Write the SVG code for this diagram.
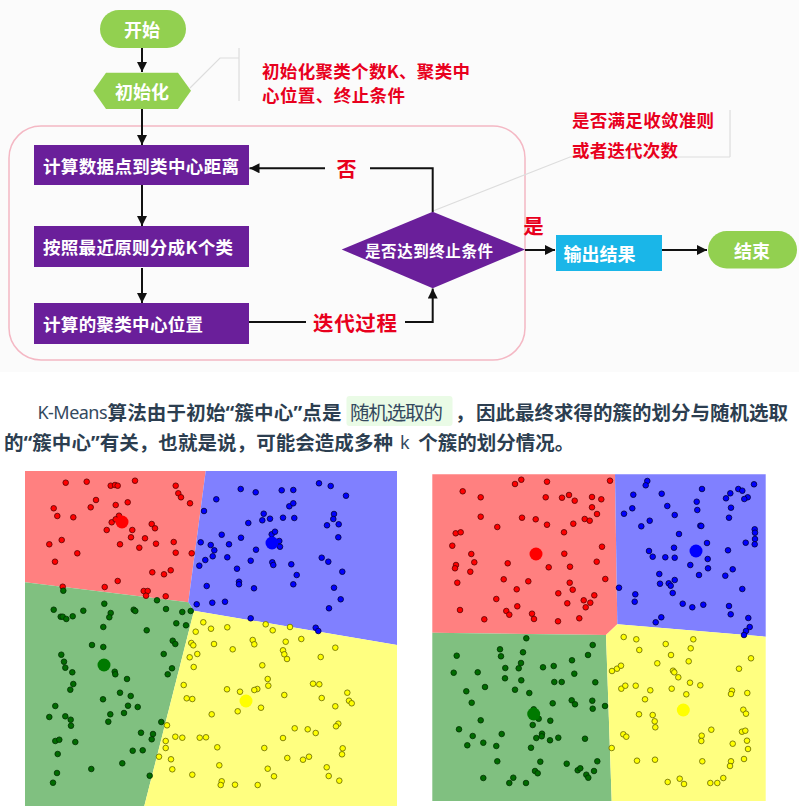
<svg xmlns="http://www.w3.org/2000/svg" width="799" height="810" viewBox="0 0 799 810">
<defs>
<style>
.cjk{font-family:"Noto Sans CJK SC","Noto Sans",sans-serif}
.q{font-family:"Noto Sans","Liberation Sans",sans-serif}
.wt{fill:#fff;font-weight:700;dominant-baseline:central}
.red{fill:#e8001d;font-weight:700;dominant-baseline:central}
.par{fill:#2c3e50;font-weight:700;font-size:19.5px;dominant-baseline:central}
.reg{fill:#34495e;font-weight:400}
.lat{font-family:"Noto Sans","Noto Sans CJK SC",sans-serif;font-weight:400;fill:#34495e}
.box{fill:#6a1f9a}
.pill{fill:#92d050}
.conn{fill:none;stroke:#111;stroke-width:2}
.lead{fill:none;stroke:#dddddd;stroke-width:1.2}
.pr circle{fill:#ff0000;stroke:#5a0000;stroke-width:0.8}
.pb circle{fill:#0000ff;stroke:#00003a;stroke-width:0.8}
.pg circle{fill:#006b00;stroke:#003000;stroke-width:0.8}
.py circle{fill:#ffff00;stroke:#666600;stroke-width:0.8}
</style>
<marker id="ah" markerUnits="userSpaceOnUse" markerWidth="11" markerHeight="10" refX="10" refY="5" orient="auto">
<path d="M0,0 L10,5 L0,10 z" fill="#111"/>
</marker>
</defs>
<rect x="0" y="0" width="799" height="810" fill="#ffffff"/>
<rect x="0" y="0" width="799" height="372" fill="#fbfbfb"/>

<!-- container -->
<rect id="loop-frame" x="9" y="126" width="516" height="234" rx="32" fill="none" stroke="#f4b8c4" stroke-width="1.5"/>

<!-- annotation leaders -->
<g id="annotations">
<path class="lead" d="M190,88 L220,58 L239,58 M239,48 L239,101"/>
<path class="lead" d="M433,211 L570,157 L730,157 M730,110 L730,157"/>
<text class="cjk red" font-size="17.5" x="262" y="70" textLength="208">初始化聚类个数K、聚类中</text>
<text class="cjk red" font-size="17.5" x="262" y="94.5" textLength="143">心位置、终止条件</text>
<text class="cjk red" font-size="17.5" x="572" y="119.5" textLength="142">是否满足收敛准则</text>
<text class="cjk red" font-size="17.5" x="572" y="149.5" textLength="106">或者迭代次数</text>
</g>

<!-- connectors -->
<g id="connectors">
<path class="conn" d="M142,48 L142,72" marker-end="url(#ah)"/>
<path class="conn" d="M142,109 L142,145" marker-end="url(#ah)"/>
<path class="conn" d="M142,185 L142,226" marker-end="url(#ah)"/>
<path class="conn" d="M142,268 L142,303" marker-end="url(#ah)"/>
<path class="conn" d="M249,322 L306,322"/>
<path class="conn" d="M405,322 L432.7,322 L432.7,288.5" marker-end="url(#ah)"/>
<path class="conn" d="M432.7,212 L432.7,168.3 L370,168.3"/>
<path class="conn" d="M325,168.3 L249.5,168.3" marker-end="url(#ah)"/>
<path class="conn" d="M525,250 L555,250" marker-end="url(#ah)"/>
<path class="conn" d="M662,250 L707,250" marker-end="url(#ah)"/>
<text class="cjk red" font-size="20" x="346.5" y="168" text-anchor="middle">否</text>
<text class="cjk red" font-size="20.5" x="313" y="322" textLength="84">迭代过程</text>
<text class="cjk red" font-size="20.5" x="533.5" y="225" text-anchor="middle">是</text>
</g>

<!-- nodes -->
<g id="start">
<rect class="pill" x="100" y="10" width="86" height="38" rx="19"/>
<text class="cjk wt" font-size="18" x="142" y="29" text-anchor="middle">开始</text>
</g>
<g id="init">
<polygon class="pill" points="93.3,90.8 106,72.7 178,72.7 191,90.8 178,109 106,109"/>
<text class="cjk wt" font-size="18" x="142" y="91" text-anchor="middle">初始化</text>
</g>
<g id="calc-distance">
<rect class="box" x="34" y="145" width="215" height="40"/>
<text class="cjk wt" font-size="17.5" x="43" y="165.5" textLength="196">计算数据点到类中心距离</text>
</g>
<g id="assign">
<rect class="box" x="34" y="226" width="215" height="41"/>
<text class="cjk wt" font-size="17.5" x="43" y="246.5" textLength="190">按照最近原则分成K个类</text>
</g>
<g id="update">
<rect class="box" x="34" y="303" width="215" height="41"/>
<text class="cjk wt" font-size="17.5" x="43" y="323.5" textLength="160">计算的聚类中心位置</text>
</g>
<g id="condition">
<polygon class="box" points="341.7,249.5 432.7,211.7 525,249.5 432.7,288.3"/>
<text class="cjk wt" font-size="15.5" x="365" y="250" textLength="128">是否达到终止条件</text>
</g>
<g id="output">
<rect x="556" y="235" width="106" height="36" fill="#1ab6e8"/>
<text class="cjk wt" font-size="18" x="563.5" y="252.5" textLength="72">输出结果</text>
</g>
<g id="end">
<rect class="pill" x="708" y="231" width="89" height="37.5" rx="18.7"/>
<text class="cjk wt" font-size="18" x="752" y="249.5" text-anchor="middle">结束</text>
</g>

<!-- paragraph -->
<g id="paragraph">
<rect x="346.5" y="396" width="106" height="30" rx="3" fill="#eafbe6"/>
<text class="lat" font-size="18" x="37.5" y="411.7" dominant-baseline="central" textLength="70">K-Means</text>
<text class="cjk par" x="107.5" y="411.7" textLength="234">算法由于初始<tspan class="q">“</tspan>簇中心<tspan class="q">”</tspan>点是</text>
<text class="cjk par reg" x="350" y="411.7" textLength="93">随机选取的</text>
<text class="cjk par" x="455" y="411.7">，</text>
<text class="cjk par" x="476" y="411.7" textLength="312">因此最终求得的簇的划分与随机选取</text>
<text class="cjk par" x="4" y="441.7" textLength="389">的<tspan class="q">“</tspan>簇中心<tspan class="q">”</tspan>有关，也就是说，可能会造成多种</text>
<text class="lat" font-size="18" x="400" y="441.7" dominant-baseline="central">k</text>
<text class="cjk par" x="418.3" y="441.7" textLength="156">个簇的划分情况。</text>
</g>

<!-- left scatter plot -->
<g id="plot-left">
<polygon fill="#ff8080" points="25,471 205.7,471 188.3,602.3 25,582.3"/>
<polygon fill="#8080ff" points="205.7,471 397,471 397,645 194,610.7 188.3,602.3"/>
<polygon fill="#80c080" points="25,582.3 188.3,602.3 194,610.7 144.3,806 25,806"/>
<polygon fill="#ffff80" points="194,610.7 397,645 397,806 144.3,806"/>
<g class="pr">
<circle cx="65.7" cy="482.7" r="2.8"/><circle cx="86.7" cy="481.7" r="2.8"/><circle cx="110.7" cy="485.7" r="2.8"/><circle cx="115" cy="485" r="2.8"/><circle cx="117.7" cy="485.7" r="2.8"/><circle cx="135" cy="480.7" r="2.8"/><circle cx="175.7" cy="485.7" r="2.8"/><circle cx="178.3" cy="493.3" r="2.8"/><circle cx="181" cy="497.3" r="2.8"/><circle cx="190" cy="503.3" r="2.8"/><circle cx="96" cy="500" r="2.8"/><circle cx="90.7" cy="507.3" r="2.8"/><circle cx="115.7" cy="505" r="2.8"/><circle cx="127.7" cy="502.3" r="2.8"/><circle cx="53.7" cy="508.3" r="2.8"/><circle cx="57.3" cy="516" r="2.8"/><circle cx="73.3" cy="517.3" r="2.8"/><circle cx="119" cy="515.7" r="2.8"/><circle cx="111.7" cy="522.3" r="2.8"/><circle cx="115.7" cy="519.3" r="2.8"/><circle cx="132.3" cy="530" r="2.8"/><circle cx="151.7" cy="524" r="2.8"/><circle cx="155" cy="528.3" r="2.8"/><circle cx="106.7" cy="530" r="2.8"/><circle cx="61.7" cy="540" r="2.8"/><circle cx="49.3" cy="544.3" r="2.8"/><circle cx="77.3" cy="553.3" r="2.8"/><circle cx="55" cy="561.7" r="2.8"/><circle cx="120" cy="544.3" r="2.8"/><circle cx="131" cy="537.3" r="2.8"/><circle cx="139.3" cy="547.7" r="2.8"/><circle cx="145" cy="538.3" r="2.8"/><circle cx="156" cy="543.7" r="2.8"/><circle cx="173.7" cy="542" r="2.8"/><circle cx="175.7" cy="552.7" r="2.8"/><circle cx="191.7" cy="553.3" r="2.8"/><circle cx="152.3" cy="572.3" r="2.8"/><circle cx="164" cy="574.3" r="2.8"/><circle cx="170.7" cy="570.3" r="2.8"/><circle cx="117.7" cy="581" r="2.8"/><circle cx="104.7" cy="587" r="2.8"/><circle cx="62.7" cy="586.7" r="2.8"/><circle cx="143.7" cy="591" r="2.8"/><circle cx="147.7" cy="591" r="2.8"/><circle cx="146" cy="595.7" r="2.8"/><circle cx="165.7" cy="596.3" r="2.8"/>
</g>
<g class="pb">
<circle cx="240.7" cy="489" r="2.8"/><circle cx="255.7" cy="492.3" r="2.8"/><circle cx="281.7" cy="490.3" r="2.8"/><circle cx="293.3" cy="490" r="2.8"/><circle cx="319" cy="483.3" r="2.8"/><circle cx="330.7" cy="486" r="2.8"/><circle cx="346" cy="495.7" r="2.8"/><circle cx="216.3" cy="499.3" r="2.8"/><circle cx="204" cy="511" r="2.8"/><circle cx="263.7" cy="513.7" r="2.8"/><circle cx="270" cy="518.7" r="2.8"/><circle cx="262.3" cy="520.3" r="2.8"/><circle cx="283" cy="517.7" r="2.8"/><circle cx="294.3" cy="518" r="2.8"/><circle cx="289.3" cy="506.3" r="2.8"/><circle cx="293.3" cy="503.3" r="2.8"/><circle cx="334" cy="514" r="2.8"/><circle cx="333.3" cy="519" r="2.8"/><circle cx="338.7" cy="524.3" r="2.8"/><circle cx="327" cy="525.3" r="2.8"/><circle cx="248.3" cy="523" r="2.8"/><circle cx="221.7" cy="534.7" r="2.8"/><circle cx="241" cy="537.7" r="2.8"/><circle cx="200.7" cy="542.3" r="2.8"/><circle cx="210.7" cy="545" r="2.8"/><circle cx="214.3" cy="550.3" r="2.8"/><circle cx="212.7" cy="556.3" r="2.8"/><circle cx="229" cy="544.3" r="2.8"/><circle cx="271.7" cy="534.3" r="2.8"/><circle cx="275" cy="531.7" r="2.8"/><circle cx="279.3" cy="541" r="2.8"/><circle cx="280" cy="546.7" r="2.8"/><circle cx="256" cy="549.7" r="2.8"/><circle cx="227.3" cy="557.3" r="2.8"/><circle cx="250.7" cy="560.7" r="2.8"/><circle cx="272.3" cy="562.3" r="2.8"/><circle cx="273.3" cy="565" r="2.8"/><circle cx="291.3" cy="564.3" r="2.8"/><circle cx="296.7" cy="575" r="2.8"/><circle cx="338.3" cy="537.3" r="2.8"/><circle cx="321.7" cy="557.7" r="2.8"/><circle cx="328.3" cy="561.7" r="2.8"/><circle cx="342.3" cy="571.7" r="2.8"/><circle cx="205.3" cy="560" r="2.8"/><circle cx="199.3" cy="565.7" r="2.8"/><circle cx="237" cy="568.7" r="2.8"/><circle cx="239" cy="581.7" r="2.8"/><circle cx="239" cy="584.3" r="2.8"/><circle cx="254" cy="588.3" r="2.8"/><circle cx="293.3" cy="584.3" r="2.8"/><circle cx="206.7" cy="586" r="2.8"/><circle cx="334" cy="587.7" r="2.8"/><circle cx="340.7" cy="599.3" r="2.8"/><circle cx="329" cy="608.3" r="2.8"/><circle cx="196.7" cy="604.3" r="2.8"/><circle cx="212.3" cy="602.7" r="2.8"/><circle cx="225" cy="601.7" r="2.8"/><circle cx="250.7" cy="618.3" r="2.8"/><circle cx="315.7" cy="627.7" r="2.8"/><circle cx="318.3" cy="631" r="2.8"/>
</g>
<g class="pg">
<circle cx="63.3" cy="590.7" r="2.8"/><circle cx="53.7" cy="609.7" r="2.8"/><circle cx="60.7" cy="616.7" r="2.8"/><circle cx="62.7" cy="616.7" r="2.8"/><circle cx="66.3" cy="619" r="2.8"/><circle cx="72.7" cy="616.3" r="2.8"/><circle cx="83.3" cy="610.7" r="2.8"/><circle cx="104.3" cy="603.7" r="2.8"/><circle cx="110.7" cy="613" r="2.8"/><circle cx="109.3" cy="617.3" r="2.8"/><circle cx="103.3" cy="627" r="2.8"/><circle cx="133.7" cy="609.7" r="2.8"/><circle cx="135.3" cy="611" r="2.8"/><circle cx="146.7" cy="630.3" r="2.8"/><circle cx="157" cy="600.3" r="2.8"/><circle cx="166" cy="609" r="2.8"/><circle cx="182.3" cy="612" r="2.8"/><circle cx="190.7" cy="611" r="2.8"/><circle cx="176.3" cy="623.3" r="2.8"/><circle cx="186" cy="625.3" r="2.8"/><circle cx="172.7" cy="640.7" r="2.8"/><circle cx="175.3" cy="644" r="2.8"/><circle cx="163.7" cy="654" r="2.8"/><circle cx="167.7" cy="674.3" r="2.8"/><circle cx="172" cy="668.3" r="2.8"/><circle cx="92" cy="645" r="2.8"/><circle cx="103.3" cy="647" r="2.8"/><circle cx="61.3" cy="654.7" r="2.8"/><circle cx="64" cy="661.7" r="2.8"/><circle cx="65.3" cy="667.7" r="2.8"/><circle cx="72.3" cy="672.3" r="2.8"/><circle cx="114.7" cy="671.7" r="2.8"/><circle cx="115.3" cy="674.3" r="2.8"/><circle cx="127" cy="679" r="2.8"/><circle cx="73.3" cy="684" r="2.8"/><circle cx="70.3" cy="689.7" r="2.8"/><circle cx="120" cy="692.7" r="2.8"/><circle cx="130.7" cy="696" r="2.8"/><circle cx="103" cy="699.3" r="2.8"/><circle cx="128" cy="705.7" r="2.8"/><circle cx="137.7" cy="707" r="2.8"/><circle cx="55.3" cy="706" r="2.8"/><circle cx="49.3" cy="717" r="2.8"/><circle cx="65.3" cy="716.3" r="2.8"/><circle cx="70.7" cy="719.7" r="2.8"/><circle cx="71" cy="725.7" r="2.8"/><circle cx="110.3" cy="714.3" r="2.8"/><circle cx="124" cy="713" r="2.8"/><circle cx="108.3" cy="721.7" r="2.8"/><circle cx="161.3" cy="722" r="2.8"/><circle cx="141" cy="732.7" r="2.8"/><circle cx="153" cy="734" r="2.8"/><circle cx="151.7" cy="739.3" r="2.8"/><circle cx="55.3" cy="741" r="2.8"/><circle cx="59.3" cy="739.7" r="2.8"/><circle cx="75.3" cy="742" r="2.8"/><circle cx="57.7" cy="754" r="2.8"/><circle cx="132.7" cy="750.7" r="2.8"/><circle cx="142.7" cy="750.3" r="2.8"/><circle cx="122.3" cy="763.3" r="2.8"/><circle cx="91.3" cy="769" r="2.8"/><circle cx="57" cy="773" r="2.8"/><circle cx="53" cy="782.7" r="2.8"/><circle cx="149.7" cy="775.7" r="2.8"/>
</g>
<g class="py">
<circle cx="203.3" cy="622.3" r="2.8"/><circle cx="211" cy="628.7" r="2.8"/><circle cx="195.7" cy="631.7" r="2.8"/><circle cx="227.3" cy="627.3" r="2.8"/><circle cx="265.7" cy="624.3" r="2.8"/><circle cx="272.7" cy="630.3" r="2.8"/><circle cx="290" cy="627" r="2.8"/><circle cx="191.3" cy="643" r="2.8"/><circle cx="193.3" cy="645.3" r="2.8"/><circle cx="214" cy="644" r="2.8"/><circle cx="197.3" cy="654" r="2.8"/><circle cx="189.7" cy="657.3" r="2.8"/><circle cx="193.7" cy="667" r="2.8"/><circle cx="232.7" cy="649.3" r="2.8"/><circle cx="252.7" cy="640" r="2.8"/><circle cx="254.3" cy="644.3" r="2.8"/><circle cx="285.7" cy="641.7" r="2.8"/><circle cx="301.3" cy="639" r="2.8"/><circle cx="283" cy="650.3" r="2.8"/><circle cx="284.3" cy="654.3" r="2.8"/><circle cx="287" cy="659" r="2.8"/><circle cx="262.3" cy="665.3" r="2.8"/><circle cx="335.3" cy="647.7" r="2.8"/><circle cx="320.7" cy="657" r="2.8"/><circle cx="267.7" cy="679" r="2.8"/><circle cx="268.3" cy="685.7" r="2.8"/><circle cx="257.3" cy="689" r="2.8"/><circle cx="254.3" cy="690" r="2.8"/><circle cx="227" cy="689.3" r="2.8"/><circle cx="240" cy="691.7" r="2.8"/><circle cx="284.3" cy="695" r="2.8"/><circle cx="183.7" cy="685" r="2.8"/><circle cx="186.7" cy="698.3" r="2.8"/><circle cx="192.3" cy="699" r="2.8"/><circle cx="211.7" cy="714.3" r="2.8"/><circle cx="237.7" cy="711.3" r="2.8"/><circle cx="261" cy="707.7" r="2.8"/><circle cx="313" cy="683.7" r="2.8"/><circle cx="319.3" cy="684.3" r="2.8"/><circle cx="321.7" cy="698" r="2.8"/><circle cx="347.3" cy="692.7" r="2.8"/><circle cx="349" cy="700.7" r="2.8"/><circle cx="351.7" cy="703.3" r="2.8"/><circle cx="335.3" cy="706.3" r="2.8"/><circle cx="167" cy="725.3" r="2.8"/><circle cx="165.7" cy="741" r="2.8"/><circle cx="175.3" cy="736.7" r="2.8"/><circle cx="182.3" cy="737.7" r="2.8"/><circle cx="165.7" cy="748" r="2.8"/><circle cx="159" cy="756.7" r="2.8"/><circle cx="171" cy="759.3" r="2.8"/><circle cx="172.3" cy="769.3" r="2.8"/><circle cx="199.7" cy="737.7" r="2.8"/><circle cx="206" cy="737.3" r="2.8"/><circle cx="217.3" cy="747.3" r="2.8"/><circle cx="264.3" cy="748" r="2.8"/><circle cx="283" cy="738" r="2.8"/><circle cx="294.7" cy="728.3" r="2.8"/><circle cx="307.7" cy="729.3" r="2.8"/><circle cx="315.7" cy="733" r="2.8"/><circle cx="338.3" cy="723.7" r="2.8"/><circle cx="336" cy="726.3" r="2.8"/><circle cx="342.7" cy="748.3" r="2.8"/><circle cx="342" cy="754.3" r="2.8"/><circle cx="287.3" cy="758" r="2.8"/><circle cx="303" cy="759.7" r="2.8"/><circle cx="309" cy="756.7" r="2.8"/><circle cx="326.7" cy="767.3" r="2.8"/><circle cx="328.7" cy="776" r="2.8"/><circle cx="339.3" cy="780.7" r="2.8"/><circle cx="219.3" cy="765.3" r="2.8"/><circle cx="192.3" cy="774.7" r="2.8"/><circle cx="221.7" cy="781.3" r="2.8"/><circle cx="220.7" cy="785" r="2.8"/><circle cx="235" cy="784.7" r="2.8"/><circle cx="257.7" cy="785" r="2.8"/><circle cx="267.7" cy="768.7" r="2.8"/><circle cx="274" cy="776.3" r="2.8"/>
</g>
<circle cx="122" cy="522" r="6.5" fill="#ff0000"/>
<circle cx="272" cy="543" r="6.5" fill="#0000ff"/>
<circle cx="104" cy="665" r="6.5" fill="#007a00"/>
<circle cx="246" cy="701" r="6.5" fill="#ffff00"/>
</g>

<!-- right scatter plot -->
<g id="plot-right">
<polygon fill="#ff8080" points="432.3,474.3 615,474.3 617.3,624.3 606,635 432.3,632.7"/>
<polygon fill="#8080ff" points="615,474.3 765.7,474.3 765.7,636.7 617.3,624.3"/>
<polygon fill="#80c080" points="432.3,632.7 606,635 611.7,801 432.3,801"/>
<polygon fill="#ffff80" points="606,635 617.3,624.3 765.7,636.7 765.7,801 611.7,801"/>
<g class="pr">
<circle cx="462.7" cy="491.3" r="2.8"/><circle cx="480.7" cy="497.3" r="2.8"/><circle cx="515" cy="484" r="2.8"/><circle cx="521.3" cy="479.7" r="2.8"/><circle cx="547" cy="481.7" r="2.8"/><circle cx="610" cy="480.7" r="2.8"/><circle cx="545.7" cy="497.3" r="2.8"/><circle cx="562" cy="497.7" r="2.8"/><circle cx="569" cy="495" r="2.8"/><circle cx="574.7" cy="500.7" r="2.8"/><circle cx="592" cy="497" r="2.8"/><circle cx="601.3" cy="499.3" r="2.8"/><circle cx="592" cy="507.3" r="2.8"/><circle cx="597" cy="514" r="2.8"/><circle cx="584.7" cy="519" r="2.8"/><circle cx="589.7" cy="520.7" r="2.8"/><circle cx="480.7" cy="516.7" r="2.8"/><circle cx="522" cy="517.7" r="2.8"/><circle cx="535.7" cy="519.3" r="2.8"/><circle cx="547" cy="524.7" r="2.8"/><circle cx="573.3" cy="523.7" r="2.8"/><circle cx="564" cy="532.3" r="2.8"/><circle cx="497.3" cy="527" r="2.8"/><circle cx="455.7" cy="533.3" r="2.8"/><circle cx="460.7" cy="532.3" r="2.8"/><circle cx="452.3" cy="545.7" r="2.8"/><circle cx="471.3" cy="554" r="2.8"/><circle cx="474.3" cy="562.3" r="2.8"/><circle cx="456" cy="565" r="2.8"/><circle cx="455" cy="568.3" r="2.8"/><circle cx="470.3" cy="571.7" r="2.8"/><circle cx="457.3" cy="582.7" r="2.8"/><circle cx="507.7" cy="563.3" r="2.8"/><circle cx="564.3" cy="553.7" r="2.8"/><circle cx="548.7" cy="567.3" r="2.8"/><circle cx="570" cy="566.7" r="2.8"/><circle cx="596.7" cy="561.7" r="2.8"/><circle cx="602" cy="546.7" r="2.8"/><circle cx="605.3" cy="579" r="2.8"/><circle cx="503.7" cy="579.3" r="2.8"/><circle cx="516.7" cy="589.3" r="2.8"/><circle cx="528.3" cy="581.3" r="2.8"/><circle cx="569.7" cy="582.7" r="2.8"/><circle cx="572.7" cy="589.7" r="2.8"/><circle cx="558.3" cy="593.3" r="2.8"/><circle cx="594.3" cy="595.3" r="2.8"/><circle cx="583.7" cy="600.3" r="2.8"/><circle cx="590.3" cy="602.7" r="2.8"/><circle cx="585.7" cy="607.3" r="2.8"/><circle cx="567.3" cy="603.3" r="2.8"/><circle cx="496.3" cy="599" r="2.8"/><circle cx="517.3" cy="606.3" r="2.8"/><circle cx="506.3" cy="611" r="2.8"/><circle cx="509.3" cy="614.7" r="2.8"/><circle cx="532" cy="613.7" r="2.8"/><circle cx="534" cy="619" r="2.8"/><circle cx="484.3" cy="619.3" r="2.8"/><circle cx="460" cy="610" r="2.8"/><circle cx="558" cy="621.3" r="2.8"/><circle cx="579.3" cy="618.3" r="2.8"/>
</g>
<g class="pb">
<circle cx="647.3" cy="481" r="2.8"/><circle cx="645.7" cy="485.3" r="2.8"/><circle cx="633.3" cy="494.7" r="2.8"/><circle cx="661.7" cy="493.7" r="2.8"/><circle cx="702" cy="489" r="2.8"/><circle cx="730.3" cy="493.3" r="2.8"/><circle cx="726" cy="498.3" r="2.8"/><circle cx="738.3" cy="489" r="2.8"/><circle cx="742.3" cy="490.7" r="2.8"/><circle cx="754" cy="484.3" r="2.8"/><circle cx="747.7" cy="497.3" r="2.8"/><circle cx="744.3" cy="499" r="2.8"/><circle cx="731" cy="507.7" r="2.8"/><circle cx="729" cy="517.7" r="2.8"/><circle cx="667.3" cy="506" r="2.8"/><circle cx="674.7" cy="515" r="2.8"/><circle cx="696.7" cy="501.7" r="2.8"/><circle cx="697.3" cy="510" r="2.8"/><circle cx="632.3" cy="508.3" r="2.8"/><circle cx="624" cy="513.7" r="2.8"/><circle cx="649.7" cy="520.7" r="2.8"/><circle cx="641.3" cy="526.3" r="2.8"/><circle cx="700.3" cy="525.7" r="2.8"/><circle cx="701.3" cy="526" r="2.8"/><circle cx="679" cy="534" r="2.8"/><circle cx="754.7" cy="529.3" r="2.8"/><circle cx="755" cy="532.7" r="2.8"/><circle cx="755" cy="539" r="2.8"/><circle cx="754.7" cy="544.3" r="2.8"/><circle cx="745.7" cy="542.7" r="2.8"/><circle cx="707" cy="543" r="2.8"/><circle cx="728" cy="550.3" r="2.8"/><circle cx="649" cy="551" r="2.8"/><circle cx="652.7" cy="556.7" r="2.8"/><circle cx="665.3" cy="557.3" r="2.8"/><circle cx="674.7" cy="557.7" r="2.8"/><circle cx="674" cy="547.7" r="2.8"/><circle cx="707.7" cy="559" r="2.8"/><circle cx="708" cy="568.3" r="2.8"/><circle cx="690.3" cy="565" r="2.8"/><circle cx="732.7" cy="569.3" r="2.8"/><circle cx="725.3" cy="575.7" r="2.8"/><circle cx="659.3" cy="574" r="2.8"/><circle cx="699" cy="575" r="2.8"/><circle cx="674.7" cy="580" r="2.8"/><circle cx="660" cy="583.7" r="2.8"/><circle cx="668.7" cy="583.3" r="2.8"/><circle cx="670.7" cy="585.7" r="2.8"/><circle cx="672.7" cy="593" r="2.8"/><circle cx="619" cy="587.7" r="2.8"/><circle cx="635.3" cy="594.3" r="2.8"/><circle cx="634.7" cy="601.7" r="2.8"/><circle cx="682.7" cy="603.7" r="2.8"/><circle cx="692.3" cy="607.3" r="2.8"/><circle cx="703.3" cy="604.7" r="2.8"/><circle cx="729" cy="606" r="2.8"/><circle cx="730.7" cy="614.3" r="2.8"/><circle cx="742.3" cy="589" r="2.8"/><circle cx="748.3" cy="618" r="2.8"/><circle cx="749.7" cy="627" r="2.8"/><circle cx="746" cy="631" r="2.8"/><circle cx="744" cy="635" r="2.8"/><circle cx="661.3" cy="617.3" r="2.8"/><circle cx="655.7" cy="622.3" r="2.8"/>
</g>
<g class="pg">
<circle cx="526.3" cy="638.3" r="2.8"/><circle cx="500" cy="649.3" r="2.8"/><circle cx="501" cy="656.3" r="2.8"/><circle cx="523" cy="652.3" r="2.8"/><circle cx="456.7" cy="655.7" r="2.8"/><circle cx="453.7" cy="672.7" r="2.8"/><circle cx="477.7" cy="672.3" r="2.8"/><circle cx="505.3" cy="668" r="2.8"/><circle cx="518.7" cy="668.3" r="2.8"/><circle cx="521" cy="663" r="2.8"/><circle cx="505" cy="678.3" r="2.8"/><circle cx="521.3" cy="680.3" r="2.8"/><circle cx="543" cy="667.3" r="2.8"/><circle cx="553.7" cy="666" r="2.8"/><circle cx="572" cy="660.3" r="2.8"/><circle cx="574.3" cy="673.7" r="2.8"/><circle cx="588" cy="655" r="2.8"/><circle cx="592.7" cy="645" r="2.8"/><circle cx="595.3" cy="682.3" r="2.8"/><circle cx="554.3" cy="682" r="2.8"/><circle cx="561.7" cy="682" r="2.8"/><circle cx="485" cy="687" r="2.8"/><circle cx="466.3" cy="691.3" r="2.8"/><circle cx="471.7" cy="702.7" r="2.8"/><circle cx="515" cy="689.7" r="2.8"/><circle cx="529.3" cy="693" r="2.8"/><circle cx="552.7" cy="703.3" r="2.8"/><circle cx="571.7" cy="700.3" r="2.8"/><circle cx="575" cy="704.3" r="2.8"/><circle cx="592.3" cy="700.7" r="2.8"/><circle cx="592.7" cy="708.7" r="2.8"/><circle cx="605" cy="706" r="2.8"/><circle cx="533.7" cy="709.3" r="2.8"/><circle cx="538.7" cy="718.7" r="2.8"/><circle cx="532.7" cy="725" r="2.8"/><circle cx="550.3" cy="720.7" r="2.8"/><circle cx="480.7" cy="720.3" r="2.8"/><circle cx="459" cy="729.3" r="2.8"/><circle cx="472.7" cy="736" r="2.8"/><circle cx="501.7" cy="734" r="2.8"/><circle cx="467.3" cy="745.3" r="2.8"/><circle cx="483.3" cy="742.7" r="2.8"/><circle cx="496.3" cy="746" r="2.8"/><circle cx="536.3" cy="738" r="2.8"/><circle cx="542" cy="733.7" r="2.8"/><circle cx="541.7" cy="736.3" r="2.8"/><circle cx="550" cy="740.3" r="2.8"/><circle cx="558.3" cy="737.7" r="2.8"/><circle cx="585" cy="738.7" r="2.8"/><circle cx="531" cy="747.7" r="2.8"/><circle cx="497.3" cy="761.3" r="2.8"/><circle cx="540.3" cy="761.7" r="2.8"/><circle cx="566.7" cy="763.7" r="2.8"/><circle cx="577.7" cy="770.3" r="2.8"/><circle cx="580.3" cy="768.3" r="2.8"/><circle cx="586.3" cy="774.7" r="2.8"/><circle cx="588.3" cy="777.7" r="2.8"/><circle cx="594" cy="771" r="2.8"/><circle cx="597.3" cy="761.3" r="2.8"/><circle cx="535" cy="771" r="2.8"/><circle cx="537.7" cy="773.3" r="2.8"/><circle cx="483.3" cy="778" r="2.8"/><circle cx="513.3" cy="777.7" r="2.8"/><circle cx="509.3" cy="783" r="2.8"/><circle cx="526" cy="783" r="2.8"/>
</g>
<g class="py">
<circle cx="623.7" cy="637" r="2.8"/><circle cx="636.3" cy="639.3" r="2.8"/><circle cx="639.3" cy="650" r="2.8"/><circle cx="665.7" cy="644" r="2.8"/><circle cx="671" cy="655" r="2.8"/><circle cx="690.7" cy="648.3" r="2.8"/><circle cx="693.3" cy="639.3" r="2.8"/><circle cx="751" cy="658.3" r="2.8"/><circle cx="739" cy="668.7" r="2.8"/><circle cx="612" cy="671" r="2.8"/><circle cx="617" cy="668.7" r="2.8"/><circle cx="621" cy="665.7" r="2.8"/><circle cx="657.3" cy="663.3" r="2.8"/><circle cx="673" cy="670.7" r="2.8"/><circle cx="674.3" cy="672.3" r="2.8"/><circle cx="678.3" cy="677.3" r="2.8"/><circle cx="688.7" cy="661.3" r="2.8"/><circle cx="690" cy="682.7" r="2.8"/><circle cx="700.3" cy="685.3" r="2.8"/><circle cx="621.3" cy="688.7" r="2.8"/><circle cx="625.3" cy="685.7" r="2.8"/><circle cx="635.7" cy="685.7" r="2.8"/><circle cx="650.3" cy="690.3" r="2.8"/><circle cx="671.7" cy="688.7" r="2.8"/><circle cx="686.3" cy="694.3" r="2.8"/><circle cx="645" cy="699.3" r="2.8"/><circle cx="639" cy="714.3" r="2.8"/><circle cx="652.7" cy="715" r="2.8"/><circle cx="654.7" cy="721.3" r="2.8"/><circle cx="655.3" cy="727.3" r="2.8"/><circle cx="732" cy="690.7" r="2.8"/><circle cx="731" cy="694" r="2.8"/><circle cx="747.3" cy="693" r="2.8"/><circle cx="743.3" cy="709.7" r="2.8"/><circle cx="746" cy="713.7" r="2.8"/><circle cx="623.3" cy="734.3" r="2.8"/><circle cx="626.3" cy="736.7" r="2.8"/><circle cx="611.7" cy="748" r="2.8"/><circle cx="637" cy="760.7" r="2.8"/><circle cx="655" cy="759.7" r="2.8"/><circle cx="701.7" cy="735.7" r="2.8"/><circle cx="701.3" cy="741" r="2.8"/><circle cx="711.3" cy="729.7" r="2.8"/><circle cx="732.7" cy="743.7" r="2.8"/><circle cx="742" cy="731.7" r="2.8"/><circle cx="745.3" cy="730.7" r="2.8"/><circle cx="747" cy="740.7" r="2.8"/><circle cx="748" cy="749" r="2.8"/><circle cx="702.3" cy="761.3" r="2.8"/><circle cx="731" cy="761.3" r="2.8"/><circle cx="730" cy="766" r="2.8"/><circle cx="744" cy="759" r="2.8"/><circle cx="667.7" cy="782" r="2.8"/><circle cx="679.7" cy="778.7" r="2.8"/><circle cx="684" cy="784" r="2.8"/><circle cx="710.3" cy="783" r="2.8"/><circle cx="717.3" cy="783" r="2.8"/><circle cx="723.3" cy="778" r="2.8"/>
</g>
<circle cx="536" cy="554" r="6.5" fill="#ff0000"/>
<circle cx="696" cy="551" r="6.5" fill="#0000ff"/>
<circle cx="533.7" cy="714" r="6.5" fill="#007a00"/>
<circle cx="683.3" cy="710" r="6.5" fill="#ffff00"/>
</g>
</svg>
